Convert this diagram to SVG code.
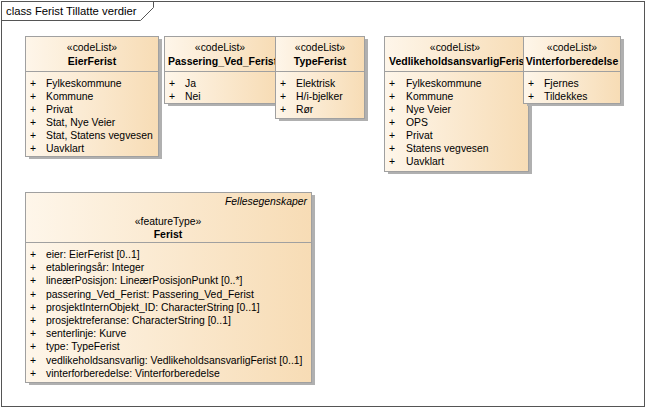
<svg xmlns="http://www.w3.org/2000/svg" width="647" height="409" viewBox="0 0 647 409">
<defs>
<linearGradient id="fill" x1="0" y1="0" x2="1" y2="0">
<stop offset="0" stop-color="#FEF6EA"/>
<stop offset="1" stop-color="#F7DCB5"/>
</linearGradient>
<clipPath id="clipPass"><rect x="164" y="36" width="111" height="35"/></clipPath>
<clipPath id="clipVedl"><rect x="384" y="36" width="144" height="35"/></clipPath>
</defs>
<style>
text{font-family:"Liberation Sans",Arial,sans-serif;fill:#000;}
.t{font-size:11.3px;}
.s{font-size:10.4px;text-anchor:middle;}
.n{font-size:10.5px;font-weight:bold;text-anchor:middle;}
.nl{font-size:10.5px;font-weight:bold;}
.a{font-size:10.4px;}
.i{font-size:10.4px;font-style:italic;text-anchor:end;}
.box{fill:url(#fill);stroke:#A0A0A0;stroke-width:1;}
.sh{fill:#B0B0B0;}
.div{stroke:#A0A0A0;stroke-width:1;}
.frame{fill:none;stroke:#555;stroke-width:1;}
</style>
<rect x="0" y="0" width="647" height="409" fill="#fff"/>
<g id="frame">
<rect class="frame" x="1.5" y="1.5" width="643" height="405"/>
<path class="frame" d="M1.5,20.5 H140.5 L153.5,7.5 V1.5"/>
<text class="t" x="6" y="15">class Ferist Tillatte verdier</text>
</g>
<g id="connectors"></g>
<g id="EierFerist">
<rect class="sh" x="29" y="39" width="133" height="120"/>
<rect class="box" x="25.5" y="36.5" width="133" height="120"/>
<line class="div" x1="25.5" y1="71.5" x2="158.5" y2="71.5"/>
<text class="s" x="92" y="50.5">«codeList»</text>
<text class="n" x="92" y="64.5">EierFerist</text>
<text class="a" x="30" y="86.5">+</text><text class="a" x="46" y="86.5">Fylkeskommune</text>
<text class="a" x="30" y="99.5">+</text><text class="a" x="46" y="99.5">Kommune</text>
<text class="a" x="30" y="112.5">+</text><text class="a" x="46" y="112.5">Privat</text>
<text class="a" x="30" y="125.5">+</text><text class="a" x="46" y="125.5">Stat, Nye Veier</text>
<text class="a" x="30" y="138.5">+</text><text class="a" x="46" y="138.5">Stat, Statens vegvesen</text>
<text class="a" x="30" y="151.5">+</text><text class="a" x="46" y="151.5">Uavklart</text>
</g>
<g id="Passering_Ved_Ferist">
<rect class="sh" x="168" y="39" width="111" height="67"/>
<rect class="box" x="164.5" y="36.5" width="111" height="67"/>
<line class="div" x1="164.5" y1="71.5" x2="275.5" y2="71.5"/>
<text class="s" x="220" y="50.5">«codeList»</text>
<text class="nl" x="168" y="64.5" clip-path="url(#clipPass)">Passering_Ved_Ferist</text>
<text class="a" x="169" y="86.5">+</text><text class="a" x="185" y="86.5">Ja</text>
<text class="a" x="169" y="99.5">+</text><text class="a" x="185" y="99.5">Nei</text>
</g>
<g id="TypeFerist">
<rect class="sh" x="279" y="39" width="89" height="82"/>
<rect class="box" x="275.5" y="36.5" width="89" height="82"/>
<line class="div" x1="275.5" y1="71.5" x2="364.5" y2="71.5"/>
<text class="s" x="320" y="50.5">«codeList»</text>
<text class="n" x="320" y="64.5">TypeFerist</text>
<text class="a" x="280" y="86.5">+</text><text class="a" x="296" y="86.5">Elektrisk</text>
<text class="a" x="280" y="99.5">+</text><text class="a" x="296" y="99.5">H/i-bjelker</text>
<text class="a" x="280" y="112.5">+</text><text class="a" x="296" y="112.5">Rør</text>
</g>
<g id="VedlikeholdsansvarligFerist">
<rect class="sh" x="388" y="39" width="144" height="135"/>
<rect class="box" x="384.5" y="36.5" width="144" height="135"/>
<line class="div" x1="384.5" y1="71.5" x2="528.5" y2="71.5"/>
<text class="s" x="455" y="50.5">«codeList»</text>
<text class="nl" x="389" y="64.5" clip-path="url(#clipVedl)">VedlikeholdsansvarligFerist</text>
<text class="a" x="389" y="86.5">+</text><text class="a" x="406" y="86.5">Fylkeskommune</text>
<text class="a" x="389" y="99.5">+</text><text class="a" x="406" y="99.5">Kommune</text>
<text class="a" x="389" y="112.5">+</text><text class="a" x="406" y="112.5">Nye Veier</text>
<text class="a" x="389" y="125.5">+</text><text class="a" x="406" y="125.5">OPS</text>
<text class="a" x="389" y="138.5">+</text><text class="a" x="406" y="138.5">Privat</text>
<text class="a" x="389" y="151.5">+</text><text class="a" x="406" y="151.5">Statens vegvesen</text>
<text class="a" x="389" y="164.5">+</text><text class="a" x="406" y="164.5">Uavklart</text>
</g>
<g id="Vinterforberedelse">
<rect class="sh" x="527" y="39" width="97" height="67"/>
<rect class="box" x="523.5" y="36.5" width="97" height="67"/>
<line class="div" x1="523.5" y1="71.5" x2="620.5" y2="71.5"/>
<text class="s" x="572" y="50.5">«codeList»</text>
<text class="n" x="572" y="64.5">Vinterforberedelse</text>
<text class="a" x="528" y="86.5">+</text><text class="a" x="544" y="86.5">Fjernes</text>
<text class="a" x="528" y="99.5">+</text><text class="a" x="544" y="99.5">Tildekkes</text>
</g>
<g id="Ferist">
<rect class="sh" x="29" y="195" width="286" height="190"/>
<rect class="box" x="25.5" y="192.5" width="286" height="190"/>
<line class="div" x1="25.5" y1="242.5" x2="311.5" y2="242.5"/>
<text class="i" x="307" y="204.5">Fellesegenskaper</text>
<text class="s" x="168" y="225">«featureType»</text>
<text class="n" x="168" y="238">Ferist</text>
<text class="a" x="30" y="258">+</text><text class="a" x="46" y="258">eier: EierFerist [0..1]</text>
<text class="a" x="30" y="271.2">+</text><text class="a" x="46" y="271.2">etableringsår: Integer</text>
<text class="a" x="30" y="284.4">+</text><text class="a" x="46" y="284.4">lineærPosisjon: LineærPosisjonPunkt [0..*]</text>
<text class="a" x="30" y="297.6">+</text><text class="a" x="46" y="297.6">passering_Ved_Ferist: Passering_Ved_Ferist</text>
<text class="a" x="30" y="310.8">+</text><text class="a" x="46" y="310.8">prosjektInternObjekt_ID: CharacterString [0..1]</text>
<text class="a" x="30" y="324">+</text><text class="a" x="46" y="324">prosjektreferanse: CharacterString [0..1]</text>
<text class="a" x="30" y="337.2">+</text><text class="a" x="46" y="337.2">senterlinje: Kurve</text>
<text class="a" x="30" y="350.4">+</text><text class="a" x="46" y="350.4">type: TypeFerist</text>
<text class="a" x="30" y="363.6">+</text><text class="a" x="46" y="363.6">vedlikeholdsansvarlig: VedlikeholdsansvarligFerist [0..1]</text>
<text class="a" x="30" y="376.8">+</text><text class="a" x="46" y="376.8">vinterforberedelse: Vinterforberedelse</text>
</g>
</svg>
